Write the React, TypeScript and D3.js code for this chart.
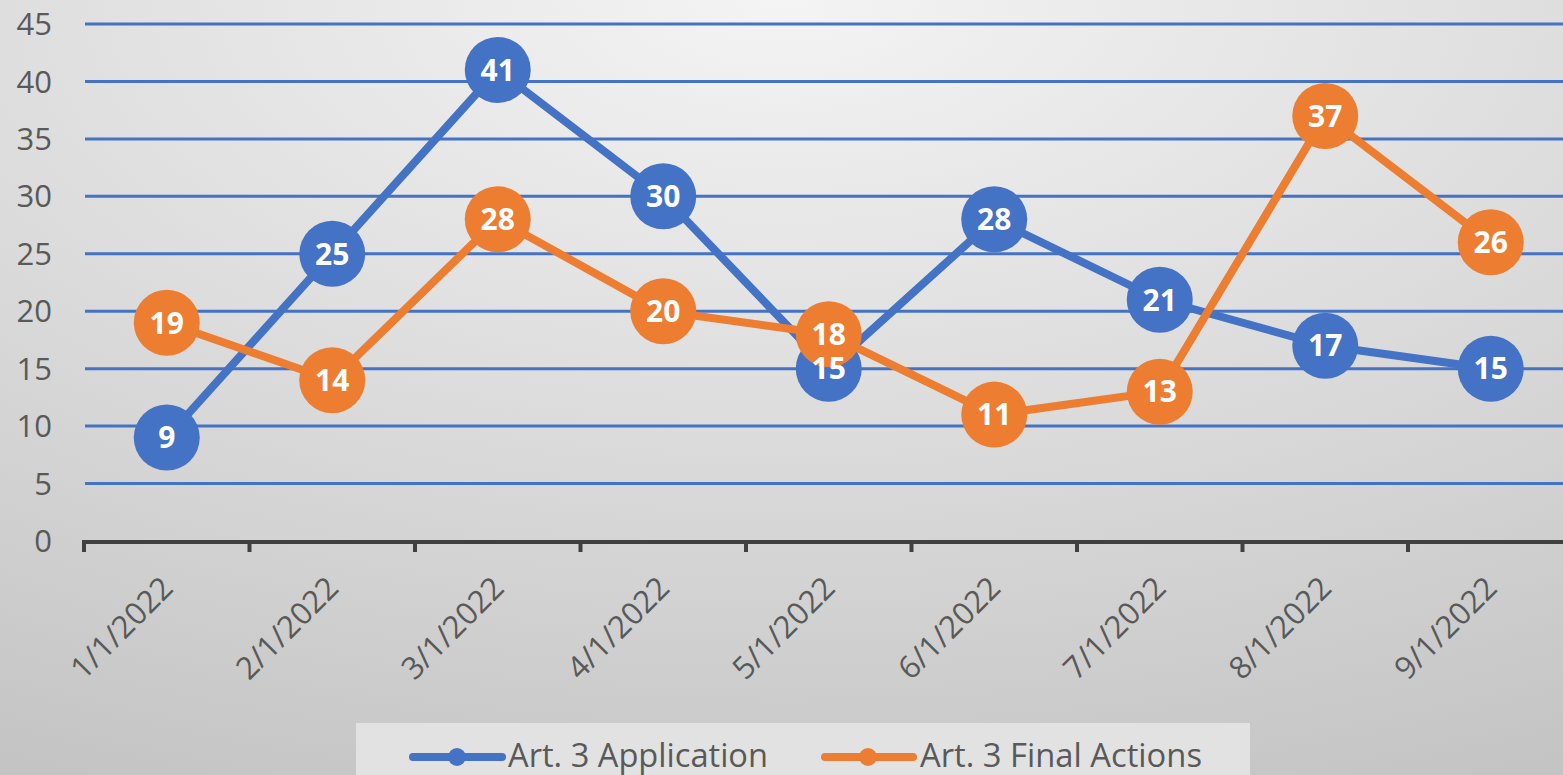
import React from "react";
import * as d3 from "d3";

const categories = ["1/1/2022", "2/1/2022", "3/1/2022", "4/1/2022", "5/1/2022", "6/1/2022", "7/1/2022", "8/1/2022", "9/1/2022"];
const application = [9, 25, 41, 30, 15, 28, 21, 17, 15];
const finalActions = [19, 14, 28, 20, 18, 11, 13, 37, 26];
const yTicks = [0, 5, 10, 15, 20, 25, 30, 35, 40, 45];
const seriesNames = ["Art. 3 Application", "Art. 3 Final Actions"];

const W = 1563;
const H = 775;
const BLUE = "#4472C4";
const ORANGE = "#ED7D31";

export default function App() {
  const x = d3.scaleBand<string>().domain(categories).range([84, 1573.5]);
  const y = d3.scaleLinear().domain([0, 45]).range([541, 24]);
  const cx = (c: string) => (x(c) as number) + x.bandwidth() / 2;
  const line = d3
    .line<number>()
    .x((_, i) => cx(categories[i]))
    .y((d) => y(d));

  const series = [
    { name: seriesNames[0], values: application, color: BLUE },
    { name: seriesNames[1], values: finalActions, color: ORANGE },
  ];
  const font = "'Open Sans', 'Liberation Sans', sans-serif";
  const boundaries = d3.range(categories.length + 1).map((i) => 84 + i * x.bandwidth());

  const legendItems = [
    { lx1: 413, lx2: 502, mx: 457, tx: 508, tl: 260, color: BLUE, name: seriesNames[0] },
    { lx1: 825, lx2: 913, mx: 868, tx: 920, tl: 282, color: ORANGE, name: seriesNames[1] },
  ];

  return (
    <svg width={W} height={H} style={{ position: "absolute", left: 0, top: 0 }}>
      <defs>
        <radialGradient id="bg" cx="0.5" cy="0" r="1.1" gradientUnits="objectBoundingBox">
          <stop offset="0" stopColor="#f4f4f4" />
          <stop offset="1" stopColor="#c4c4c4" />
        </radialGradient>
      </defs>
      <rect x={0} y={0} width={W} height={H} fill="url(#bg)" />
      {yTicks.slice(1).map((t) => (
        <line key={t} x1={85} x2={W} y1={y(t)} y2={y(t)} stroke={BLUE} strokeWidth={3} />
      ))}
      {yTicks.map((t) => (
        <text key={"yl" + t} x={52} y={y(t)} dy="0.36em" textAnchor="end" fontFamily={font} fontSize={31} fill="#595959">
          {t}
        </text>
      ))}
      <line x1={82} x2={W} y1={y(0) + 1} y2={y(0) + 1} stroke="#404040" strokeWidth={4} />
      {boundaries.map((bx, i) => (
        <line key={"tk" + i} x1={bx} x2={bx} y1={y(0)} y2={y(0) + 11} stroke="#404040" strokeWidth={4} />
      ))}
      {categories.map((c) => (
        <text
          key={"xl" + c}
          transform={`translate(${cx(c) + 8},${590}) rotate(-45)`}
          textAnchor="end"
          fontFamily={font}
          fontSize={31}
          fill="#595959"
        >
          {c}
        </text>
      ))}
      {series.map((s) => (
        <g key={s.name}>
          <path d={line(s.values) || ""} fill="none" stroke={s.color} strokeWidth={8} strokeLinejoin="round" />
          {s.values.map((v, i) => (
            <circle key={i} cx={cx(categories[i])} cy={y(v)} r={33} fill={s.color} />
          ))}
        </g>
      ))}
      {series.map((s) => (
        <g key={"lab" + s.name}>
          {s.values.map((v, i) => (
            <text
              key={i}
              x={cx(categories[i])}
              y={y(v)}
              dy="0.36em"
              textAnchor="middle"
              fontFamily={font}
              fontWeight="bold"
              fontSize={30}
              fill="#ffffff"
            >
              {v}
            </text>
          ))}
        </g>
      ))}
      <rect x={356} y={723} width={894} height={60} fill="#e2e2e2" />
      {legendItems.map((l) => (
        <g key={l.name}>
          <line x1={l.lx1} x2={l.lx2} y1={757} y2={757} stroke={l.color} strokeWidth={8} strokeLinecap="round" />
          <circle cx={l.mx} cy={757} r={9} fill={l.color} />
          <text
            x={l.tx}
            y={767}
            fontFamily={font}
            fontSize={32}
            fill="#595959"
            textLength={l.tl}
            lengthAdjust="spacingAndGlyphs"
          >
            {l.name}
          </text>
        </g>
      ))}
    </svg>
  );
}
